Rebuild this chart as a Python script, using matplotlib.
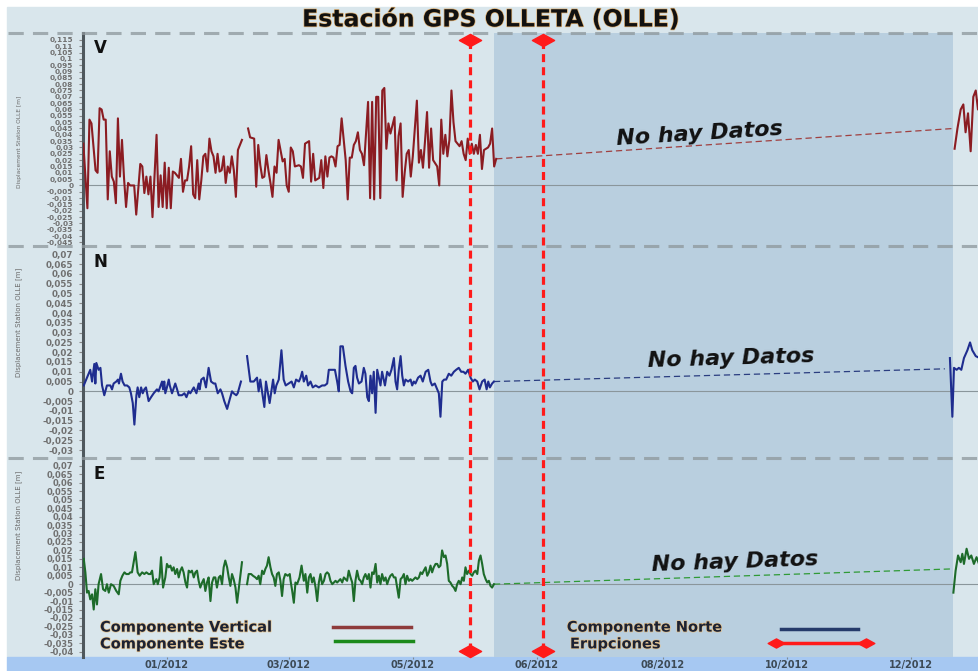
import numpy as np
import pandas as pd
import matplotlib
matplotlib.use("Agg")
import matplotlib.pyplot as plt
import matplotlib.patheffects as pe
from matplotlib.lines import Line2D
from matplotlib.patches import Rectangle
from matplotlib.path import Path
from matplotlib.ticker import FuncFormatter

nan = np.nan
start = pd.Timestamp("2011-11-21")

# ---- data (days since start, displacement in m) ----
v_days = [0, 2, 3, 4, 6, 7, 8, 9, 10, 11, 12, 13, 14, 15, 16, 17, 18, 19, 20, 21,
          22, 23, 25, 26, 28, 29, 30, 31, 32, 33, 34, 36, 37, 38, 39, 40, 41, 42, 43, 44,
          45, 47, 48, 49, 50, 51, 52, 53, 54, 55, 56, 57, 58, 59, 60, 61, 62, 63, 64, 65,
          66, 67, 68, 69, 70, 71, 72, 73, 74, 75, 76, 78, 79.5,
          81, 82, 84, 85, 86, 87, 88, 89, 90, 91, 92, 93, 94, 95, 96, 98, 99, 100, 101, 102,
          103, 104, 106, 107, 108, 109, 111, 112, 113, 114, 116, 117, 118, 119, 120, 121, 122, 123, 124, 125,
          126, 127, 129, 130, 131, 132, 133, 134, 135, 136, 137, 138, 140, 141, 142, 143, 144, 145, 146, 147,
          148, 149, 150, 151, 153, 154, 155, 156, 157, 158, 159, 160, 161, 162, 164, 165, 166, 167, 168, 169,
          170, 171, 172, 174, 175, 176, 177, 178, 179, 180, 181, 182, 183, 185, 186, 187, 188, 189, 190, 191,
          192, 193, 194, 195, 196, 197, 199, 200, 201, 202, 203]
v_vals = [0.033, -0.018, 0.052, 0.049, 0.012, 0.010, 0.061, 0.060, 0.052, 0.052, -0.011, 0.027, 0.007, 0.003, -0.014, 0.053, 0.007, 0.036, 0.006, -0.017,
          0.002, 0.000, 0.000, -0.023, 0.017, 0.015, -0.006, 0.007, -0.007, 0.007, -0.025, 0.040, -0.017, 0.008, -0.017, 0.018, -0.018, 0.014, -0.018, 0.011,
          0.010, 0.006, 0.021, -0.005, 0.004, 0.004, 0.015, 0.031, -0.007, -0.010, 0.020, -0.011, 0.004, 0.023, 0.025, 0.011, 0.037, 0.027, 0.023, 0.010,
          0.025, 0.011, 0.012, 0.023, 0.002, 0.015, 0.010, 0.023, 0.012, -0.009, 0.028, 0.036, nan,
          0.045, 0.038, 0.037, -0.001, 0.032, 0.016, 0.006, 0.007, 0.024, 0.012, 0.002, -0.009, 0.015, 0.010, 0.036, 0.019, 0.021, 0.000, -0.005, 0.030,
          0.027, 0.015, 0.016, 0.015, 0.006, 0.033, 0.035, 0.003, 0.025, 0.004, 0.006, 0.020, -0.002, 0.023, 0.007, 0.022, 0.023, 0.022, 0.015, 0.031,
          0.032, 0.053, 0.020, -0.011, 0.022, 0.022, 0.032, 0.035, 0.042, 0.028, 0.025, 0.016, 0.066, -0.010, 0.066, -0.011, 0.070, 0.070, -0.010, 0.075,
          0.077, 0.029, 0.049, 0.041, 0.054, 0.004, 0.039, 0.049, -0.009, 0.010, 0.025, 0.028, 0.007, 0.023, 0.067, 0.018, 0.028, 0.014, 0.035, 0.058,
          0.014, 0.045, 0.020, 0.015, 0.000, 0.052, 0.025, 0.040, 0.023, 0.036, 0.075, 0.050, 0.035, 0.031, 0.035, 0.025, 0.020, 0.037, 0.025, 0.033,
          0.025, 0.032, 0.025, 0.040, 0.013, 0.028, 0.030, 0.033, 0.045, 0.015, 0.021]
v_days_2013 = [428.4, 429.8, 431.4, 432.7, 433.8, 435.0, 436.3, 437.6, 438.8, 439.9, 440.4]
v_vals_2013 = [0.029, 0.045, 0.060, 0.064, 0.042, 0.057, 0.027, 0.070, 0.075, 0.060, 0.068]
v_gap_days = [203, 427.8]
v_gap_vals = [0.021, 0.045]

n_days = [0.2, 3.4, 4.3, 5.4, 5.9, 6.4, 7.5, 8.4, 9.2, 10.3, 11.6, 13.3, 14.1, 14.9, 16.2, 17.0, 17.5, 18.5, 19.3, 20.3,
          21.5, 22.6, 23.4, 24.3, 25.1, 26.1, 26.7, 27.5, 28.4, 29.2, 30.0, 30.8, 32.1, 33.3, 34.6, 36.2, 37.0, 38.7, 39.2, 39.8,
          40.3, 41.1, 42.0, 42.5, 43.6, 45.2, 46.1, 46.9, 48.5, 49.7, 50.7, 51.8, 52.6, 54.3, 55.6, 56.7, 57.2, 58.0, 59.2, 60.3,
          61.6, 62.8, 64.1, 64.9, 66.1, 67.4, 68.2, 69.3, 70.7, 72.0, 73.1, 73.9, 75.2, 75.9, 77.5, 79.0,
          80.5, 82.1, 83.8, 85.4, 86.2, 87.0, 89.0, 89.8, 91.6, 93.3, 94.1, 94.9, 96.1, 97.4, 98.5, 99.5, 101.0,
          102.4, 103.5, 104.6, 106.0, 106.8, 107.6, 108.4, 109.6, 110.5, 111.7, 112.8, 114.2, 115.8, 117.4, 118.7, 119.9, 120.7, 122.4, 123.7, 124.8,
          125.6, 126.4, 127.6, 128.9, 130.2, 131.4, 132.2, 133.0, 133.8, 134.6, 135.5, 136.8, 137.9, 138.7, 139.6, 140.4, 141.2, 142.0, 142.8, 143.7,
          144.5, 145.3, 146.1, 146.9, 148.3, 149.4, 150.5, 151.5, 152.7, 153.5, 154.3, 155.1, 156.0, 156.8, 157.6, 158.4, 159.7, 160.9, 161.7, 162.5,
          163.3, 164.6, 165.8, 166.9, 168.3, 169.6, 170.7, 171.5, 172.8, 174.0, 174.8, 175.6, 176.5, 177.4, 178.4, 179.7, 180.9, 182.2, 183.3, 184.6,
          185.8, 186.9, 187.9, 189.2, 190.4, 191.5, 192.5, 193.7, 194.8, 196.1, 197.3, 198.3, 199.1, 199.9, 201.0, 201.9]
n_vals = [0.003, 0.011, 0.005, 0.014, 0.004, 0.0145, 0.011, 0.012, 0.003, -0.002, 0.003, 0.003, 0.001, 0.004, 0.005, 0.006, 0.004, 0.009, 0.005, 0.003,
          0.003, 0.002, -0.001, -0.006, -0.017, -0.002, 0.002, -0.003, 0.002, -0.001, 0.001, 0.002, -0.005, -0.003, -0.001, 0.001, 0.000, 0.005, 0.001, 0.005,
          -0.001, 0.002, 0.006, 0.003, -0.001, 0.004, 0.001, -0.002, -0.002, -0.001, -0.003, 0.000, -0.001, 0.002, -0.001, 0.004, 0.001, 0.006, 0.007, 0.002,
          0.012, 0.005, 0.004, 0.004, -0.001, 0.001, -0.001, -0.005, -0.009, -0.004, 0.000, -0.001, -0.002, -0.001, 0.005, nan,
          0.018, 0.005, 0.005, 0.007, 0.000, 0.006, -0.008, 0.005, -0.006, 0.006, -0.001, 0.003, 0.006, 0.021, 0.006, 0.003, 0.004,
          0.005, 0.002, 0.006, 0.005, 0.007, 0.010, 0.005, 0.008, 0.003, 0.005, 0.002, 0.003, 0.002, 0.003, 0.003, 0.004, 0.011, 0.011, 0.011, 0.005,
          0.000, 0.023, 0.023, 0.013, 0.005, 0.000, -0.001, 0.012, 0.013, 0.007, 0.004, 0.005, 0.012, 0.009, -0.003, -0.005, 0.008, -0.001, 0.010, -0.011,
          0.011, 0.007, 0.003, 0.010, 0.003, 0.010, 0.008, 0.011, 0.017, 0.005, 0.001, 0.011, 0.018, 0.008, 0.003, 0.006, 0.005, 0.006, 0.003, 0.005,
          0.004, 0.007, 0.008, 0.005, 0.010, 0.011, 0.005, 0.003, 0.004, 0.001, -0.001, -0.013, 0.005, 0.006, 0.006, 0.009, 0.008, 0.010, 0.011, 0.012,
          0.010, 0.010, 0.009, 0.011, 0.007, 0.005, 0.006, 0.005, 0.001, 0.005, 0.006, 0.001, 0.005, 0.002, 0.004, 0.005]
n_days_2013 = [426.1, 427.3, 428.1, 429.4, 430.5, 431.7, 433.0, 434.7, 436.0, 437.1, 438.8, 440.7]
n_vals_2013 = [0.017, -0.013, 0.012, 0.011, 0.012, 0.011, 0.017, 0.021, 0.025, 0.021, 0.018, 0.017]
n_gap_days = [201.9, 423.6]
n_gap_vals = [0.005, 0.0115]

e_days = [0.2, 1.0, 1.8, 2.6, 3.4, 4.3, 5.1, 5.9, 6.7, 7.5, 8.7, 9.7, 10.8, 11.6, 12.5, 13.6, 14.9, 16.2, 17.4, 18.2,
          19.2, 20.2, 21.1, 22.3, 23.1, 23.9, 25.6, 26.7, 27.7, 28.9, 30.0, 31.0, 32.1, 33.0, 33.8, 34.6, 35.9, 36.6, 37.5, 38.2,
          39.2, 40.3, 41.1, 42.0, 42.8, 43.6, 44.4, 45.2, 46.1, 46.9, 47.7, 48.5, 49.3, 50.2, 51.0, 51.8, 52.6, 53.4, 54.3, 55.1,
          55.9, 56.7, 57.5, 58.4, 59.2, 60.0, 60.8, 61.6, 62.5, 63.3, 64.1, 64.9, 65.7, 66.6, 67.4, 68.2, 69.0, 69.8, 70.7, 71.5,
          72.3, 73.1, 73.9, 74.8, 75.6, 76.9, 78.0, 79.2,
          80.5, 81.3, 82.5, 83.4, 84.6, 85.4, 86.2, 87.0, 87.9, 88.7, 89.5, 90.3, 91.1, 92.0, 92.8, 93.6, 94.4, 95.2, 96.1, 96.9,
          97.7, 98.5, 99.3, 100.5, 101.5,
          101.9, 102.7, 103.5, 104.3, 105.1, 106.3, 107.3, 108.4, 109.2, 110.1, 110.9, 111.7, 112.5, 113.3, 114.2, 115.0, 115.8, 116.6, 117.4, 118.3,
          119.1, 119.9, 120.7, 121.5, 122.4, 123.2, 124.0, 124.8, 125.6, 126.4, 127.3, 128.1, 128.9, 129.7, 130.5, 131.4, 132.2, 133.0, 133.8, 134.6,
          135.5, 136.3, 137.1, 137.9, 138.7, 139.6, 140.4, 141.2, 142.0, 142.8, 143.7, 144.5, 145.3, 146.1, 146.9, 147.8, 148.6, 149.4, 150.2, 151.0,
          151.9, 152.7, 153.5, 154.3, 155.1, 156.0, 156.8, 157.6, 158.4, 159.2, 160.1, 160.9, 161.7, 163.3, 164.2, 165.0, 165.8, 166.6, 167.4, 168.3,
          169.1, 169.9, 170.7, 171.5, 172.3, 173.2, 174.0, 174.8, 175.6, 176.4, 177.3, 178.1, 178.9, 179.7, 180.5, 181.4, 182.2, 183.0, 183.8, 184.6,
          185.5, 186.3, 187.1, 187.9, 188.7, 189.6, 190.4, 191.2, 192.0, 192.8, 193.7, 194.5, 195.3, 196.1, 196.9, 197.8, 198.6, 199.4, 200.2, 201.0,
          201.9]
e_vals = [0.015, 0.007, -0.005, -0.004, -0.009, -0.006, -0.015, -0.003, -0.012, 0.000, 0.006, -0.003, -0.004, 0.000, -0.005, 0.000, -0.001, -0.004, -0.006, 0.002,
          0.005, 0.007, 0.006, 0.006, 0.007, 0.007, 0.019, 0.007, 0.005, 0.007, 0.006, 0.007, 0.006, 0.006, 0.008, 0.000, 0.003, 0.000, 0.004, 0.016,
          -0.002, 0.004, 0.012, 0.010, 0.011, 0.008, 0.010, 0.006, 0.009, 0.004, 0.008, 0.010, 0.007, 0.001, -0.002, 0.008, 0.007, 0.008, 0.004, 0.007,
          0.008, 0.002, -0.002, 0.001, 0.003, -0.004, 0.001, 0.004, -0.010, 0.001, 0.004, 0.004, -0.002, 0.004, 0.005, 0.000, 0.010, 0.014, 0.010, 0.004,
          -0.001, 0.006, 0.003, -0.002, -0.011, 0.002, 0.013, nan,
          0.000, 0.006, 0.006, 0.005, 0.004, 0.003, 0.005, 0.000, 0.008, 0.006, 0.009, 0.011, 0.016, 0.010, 0.006, 0.004, -0.001, 0.006, 0.007, 0.002,
          -0.007, 0.003, 0.006, 0.005, 0.006,
          0.002, -0.004, -0.011, 0.001, 0.000, 0.004, 0.011, 0.002, 0.006, -0.005, 0.004, 0.006, 0.001, 0.004, -0.002, -0.010, 0.001, 0.006, 0.000, 0.002,
          0.006, 0.007, 0.006, 0.002, 0.000, 0.001, 0.002, 0.001, 0.002, 0.003, 0.001, 0.004, 0.003, 0.002, 0.008, 0.004, 0.001, -0.010, 0.002, 0.008,
          0.003, 0.002, 0.000, 0.004, 0.006, 0.003, 0.006, -0.002, 0.007, 0.006, 0.012, 0.001, 0.005, 0.000, 0.006, 0.002, 0.004, 0.000, 0.003, 0.005,
          0.006, 0.004, 0.004, -0.002, -0.008, 0.003, 0.004, 0.006, 0.000, 0.005, 0.002, 0.003, 0.002, 0.004, 0.003, 0.004, 0.007, 0.006, 0.008, 0.010,
          0.005, 0.007, 0.011, 0.007, 0.010, 0.012, 0.012, 0.010, 0.011, 0.020, 0.016, 0.017, 0.012, 0.002, 0.001, -0.001, -0.002, -0.004, 0.000, 0.002,
          0.000, 0.004, 0.002, 0.010, 0.006, 0.008, 0.006, 0.005, 0.007, 0.008, 0.006, 0.014, 0.017, 0.012, 0.006, 0.003, 0.001, 0.002, -0.001, -0.002,
          0.000]
e_days_2013 = [427.8, 428.9, 430.1, 431.4, 432.2, 433.0, 434.3, 435.5, 436.6, 437.9, 439.2, 440.7]
e_vals_2013 = [-0.005, 0.008, 0.017, 0.013, 0.018, 0.012, 0.021, 0.015, 0.017, 0.012, 0.016, 0.011]
e_gap_days = [201.9, 426.1]
e_gap_vals = [0.000, 0.009]

erupciones = ["2012-05-29", "2012-07-04"]
sin_datos = ("2012-06-10", "2013-01-21 14:00")
tick_dates = ["2012-01-01", "2012-03-01", "2012-05-01", "2012-07-01",
              "2012-09-01", "2012-11-01", "2013-01-01"]
tick_labels = ["01/2012", "03/2012", "05/2012", "06/2012", "08/2012", "10/2012", "12/2012"]


def to_dates(days):
    return start + pd.to_timedelta(np.asarray(days, dtype=float), unit="D")


def comma_fmt(v, pos):
    s = "{:.3f}".format(round(v, 3) + 0.0).rstrip("0").rstrip(".")
    if s in ("-0", ""):
        s = "0"
    return s.replace(".", ",")


bg = "#d9e6ec"
shade = "#b9cfdf"
c_v, c_n, c_e = "#8b1c22", "#1f2d8f", "#1d6b2a"
red = "#ff1a1a"

fig = plt.figure(figsize=(9.79, 6.71), dpi=100, facecolor="white")
fig.add_artist(Rectangle((0.00715, 0.0209), 0.99285, 0.9687, transform=fig.transFigure,
                         color=bg, zorder=-10))
fig.add_artist(Rectangle((0.00715, 0.0), 0.99285, 0.0209, transform=fig.transFigure,
                         color="#a6c8f2", zorder=-10))

left, width = 83 / 979, 1 - 83 / 979
ax1 = fig.add_axes([left, 0.6334, width, 0.3174])
ax2 = fig.add_axes([left, 0.3174, width, 0.3160], sharex=ax1)
ax3 = fig.add_axes([left, 0.0209, width, 0.2965], sharex=ax1)

panels = [
    (ax1, "V", v_days, v_vals, v_days_2013, v_vals_2013, v_gap_days, v_gap_vals, c_v, "#a04040",
     (-0.0478, 0.1204), np.arange(-0.045, 0.1151, 0.005), 5.3, 4.2, 0.49, 0.93),
    (ax2, "N", n_days, n_vals, n_days_2013, n_vals_2013, n_gap_days, n_gap_vals, c_n, "#2a3d80",
     (-0.0341, 0.0743), np.arange(-0.03, 0.0701, 0.005), 6.3, 5.0, 0.64, 0.925),
    (ax3, "E", e_days, e_vals, e_days_2013, e_vals_2013, e_gap_days, e_gap_vals, c_e, "#2f9a35",
     (-0.0431, 0.0747), np.arange(-0.04, 0.0701, 0.005), 6.0, 5.0, 0.66, 0.92),
]

for ax, letter, d, v, d2, v2, gd, gv, col, gcol, ylim, yt, tfs, lfs, ly, lety in panels:
    ax.set_facecolor("none")
    ax.axvspan(pd.Timestamp(sin_datos[0]), pd.Timestamp(sin_datos[1]), color=shade, lw=0, zorder=0)
    ax.axhline(0, color="#8a969b", lw=0.8, zorder=1)
    ax.plot(to_dates(d), v, color=col, lw=1.5, zorder=3)
    ax.plot(to_dates(d2), v2, color=col, lw=1.5, zorder=3)
    ax.plot(to_dates(gd), gv, color=gcol, lw=0.9, ls=(0, (5, 3)), zorder=2)
    ax.set_ylim(*ylim)
    ax.set_yticks(yt)
    ax.yaxis.set_major_formatter(FuncFormatter(comma_fmt))
    ax.tick_params(axis="y", labelsize=tfs, labelcolor="#707070", length=3,
                   color="#8a8a8a", pad=4)
    for lab in ax.get_yticklabels():
        lab.set_fontweight("bold")
    ax.set_ylabel("Displacement Station OLLE [m]", fontsize=lfs, color="#6a6a6a")
    ax.yaxis.set_label_coords(-0.068, ly)
    for side in ("top", "right", "bottom"):
        ax.spines[side].set_visible(False)
    ax.spines["left"].set_color("#4f585d")
    ax.spines["left"].set_linewidth(2.2)
    ax.text(0.012, lety, letter, transform=ax.transAxes, fontsize=12,
            fontweight="bold", ha="left", va="center", color="#111111")

ax1.set_xlim(start - pd.Timedelta(hours=4), start + pd.Timedelta(days=440.4))
for ax in (ax1, ax2):
    ax.tick_params(axis="x", bottom=False, labelbottom=False)
ax3.set_xticks([pd.Timestamp(t) for t in tick_dates])
ax3.set_xticklabels(tick_labels, fontweight="bold")
ax3.tick_params(axis="x", labelsize=7, labelcolor="#3d4a55", length=1.5,
                color="#7d8a95", pad=0.5)

# "No hay Datos" labels
nd_kw = dict(fontsize=16, fontweight="bold", fontstyle="italic", ha="center",
             va="center", color="#111111")
ax1.text(start + pd.Timedelta(days=303), 0.041, "No hay Datos", rotation=3.5, **nd_kw)
ax2.text(start + pd.Timedelta(days=318.6), 0.017, "No hay Datos", rotation=1.7, **nd_kw)
ax3.text(start + pd.Timedelta(days=320.6), 0.0128, "No hay Datos", rotation=2.0, **nd_kw)

# panel separators
for yy in (0.9508, 0.6334, 0.3174):
    fig.add_artist(Line2D([0.008, 1.0], [yy, yy], transform=fig.transFigure,
                          color="#8e989c", alpha=0.75, lw=2.2, ls=(0, (5, 3)), zorder=1))

# eruption lines across all panels
diamond = Path([(-1, 0), (0, 0.55), (1, 0), (0, -0.55), (-1, 0)],
               [Path.MOVETO, Path.LINETO, Path.LINETO, Path.LINETO, Path.CLOSEPOLY])
ax_e = fig.add_axes([left, 0.0209, width, 0.9299], sharex=ax1)
ax_e.set_zorder(2)
ax_e.set_ylim(0, 1)
ax_e.axis("off")
for t in erupciones:
    dt = pd.Timestamp(t)
    ax_e.plot([dt, dt], [0.0096, 0.9888], color=red, lw=2.3, ls=(0, (2.5, 1.6)),
              marker=diamond, ms=16, mfc=red, mec=red, clip_on=False)

# legend (text on the left, key line on the right, as in the original)
glow = [pe.withStroke(linewidth=1.0, foreground="#e6c38e")]
legend_rows = [
    ("Componente Vertical", 0.019, 0.150, (0.279, 0.366), 0.151, "#8e3b3b", None),
    ("Componente Este", 0.019, 0.066, (0.281, 0.368), 0.080, "#1b8a1b", None),
    ("Componente Norte", 0.540, 0.150, (0.779, 0.865), 0.141, "#253a6a", None),
    ("Erupciones", 0.5435, 0.066, (0.7734, 0.874), 0.070, red, diamond),
]
for label, tx, ty, (x0, x1), ly, col, mk in legend_rows:
    ax3.text(tx, ty, label, transform=ax3.transAxes, fontsize=10.5, fontweight="bold",
             color="#1c2233", ha="left", va="center", path_effects=glow, zorder=6)
    ax3.add_line(Line2D([x0, x1], [ly, ly], transform=ax3.transAxes, color=col, lw=2.5,
                        marker=mk, ms=12, mfc=col, mec=col, clip_on=False, zorder=6))

fig.text(0.5015, 0.971, "Estación GPS OLLETA (OLLE)", fontsize=17, fontweight="bold",
         ha="center", va="center", color="#111111",
         path_effects=[pe.withStroke(linewidth=1.0, foreground="#e0b070")])

fig.savefig("out.png", dpi=100)
